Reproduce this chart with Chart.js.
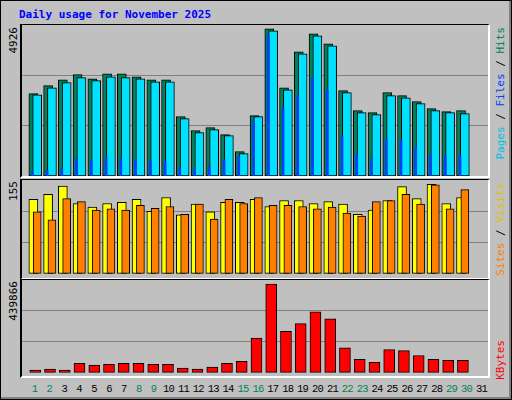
<!DOCTYPE html>
<html>
<head>
<meta charset="utf-8">
<script src="https://cdn.jsdelivr.net/npm/chart.js@4"></script>
<style>
  body { margin:0; background:#fff; }
  #frame { position:absolute; left:0; top:0; width:509px; height:397px; background:#C0C0C0;
           border-right:3px solid #808080; border-bottom:3px solid #808080; box-sizing:content-box; outline:1px solid #000; outline-offset:-1px; }
  .t { position:absolute; font-family:"DejaVu Sans Mono", monospace; font-size:11px; white-space:nowrap; }
  .panel { position:absolute; left:20px; width:470px; box-sizing:border-box;
           border-style:solid; border-width:1px 2px 2px 2px; border-color:#000 #fff #fff #000; }
  .panel canvas { position:absolute; left:0; top:0; }
  .vl { position:absolute; writing-mode:vertical-rl; transform:rotate(180deg); font-family:"DejaVu Sans Mono", monospace; font-size:11px; }
  .vr { position:absolute; writing-mode:vertical-rl; transform:rotate(180deg); font-family:"DejaVu Sans Mono", monospace; font-size:11px; }
  .dia { position:absolute; top:383px; width:16px; text-align:center; font-family:"Liberation Mono", monospace; font-size:10.5px; letter-spacing:-0.8px; }
</style>
</head>
<body>
<div id="frame">
  <div class="t" style="left:19px;top:8px;color:#0000ff;font-weight:bold;">Daily usage for November 2025</div>

  <div class="panel" style="top:24px;height:154px;"><canvas id="c1"></canvas></div>
  <div class="panel" style="top:179px;height:101px;"><canvas id="c2"></canvas></div>
  <div class="panel" style="top:279px;height:99px;"><canvas id="c3"></canvas></div>

  <div class="vl" style="left:7px;top:27px;">4926</div>
  <div class="vl" style="left:7px;top:181px;">155</div>
  <div class="vl" style="left:7px;top:281px;">439866</div>

  <div class="vr" style="left:494px;top:27px;"><span style="color:#00c0e0">Pages</span> / <span style="color:#0040ff">Files</span> / <span style="color:#00805c">Hits</span></div>
  <div class="vr" style="left:494px;top:183px;"><span style="color:#ff8000">Sites</span> / <span style="color:#e0c000">Visits</span></div>
  <div class="vr" style="left:494px;top:340px;color:#ff0000">KBytes</div>

  <div id="days"></div>
</div>

<script>
// ---------------------------------------------------------
// DATOS
// ---------------------------------------------------------
const dias      = [1,2,3,4,5,6,7,8,9,10,11,12,13,14,15,16,17,18,19,20,21,22,23,24,25,26,27,28,29,30];
const finDeSemana = [1,2,8,9,15,16,22,23,29,30];
const hits   = [2685,2946,3141,3305,3174,3337,3337,3239,3141,3141,1935,1478,1576,1348,793,1967,4805,2880,4054,4641,4315,2783,2131,2065,2718,2620,2424,2196,2098,2131];
const files  = [2652,2880,3044,3207,3109,3239,3207,3174,3076,3076,1870,1413,1511,1315,728,1935,4739,2815,3989,4576,4250,2718,2065,2000,2620,2554,2359,2131,2065,2033];
const pages  = [141,174,239,565,500,598,565,533,500,467,272,239,304,533,630,1804,4576,2228,2620,3207,2815,1283,696,565,1217,1152,924,696,663,663];
const sites  = [123,131,145,116,110,116,118,123,103,126,97,115,102,118,118,123,111,121,121,116,119,115,98,105,121,144,124,148,116,126];
const visits = [102,89,124,119,105,107,105,113,108,111,98,115,90,123,116,126,113,113,111,107,110,100,95,119,121,131,115,147,107,139];
const kbytes = [10800,15400,10800,43000,34000,38000,43000,43000,38000,38000,20000,15400,25000,43000,52000,163000,421000,195000,232000,288000,255000,117000,62000,48000,108000,103000,80000,62000,57000,57000];

const MAX_HITS = 4926, MAX_SITES = 155, MAX_KB = 439866;

// ---------------------------------------------------------
// GRAFICOS
// ---------------------------------------------------------
function serie(vals, dx) { return vals.map((v, i) => ({ x: dias[i] + dx, y: v })); }

function barra(label, vals, dx, color, ancho) {
    return { label, data: serie(vals, dx), backgroundColor: color, borderColor: '#000',
             borderWidth: ancho > 3 ? 1 : 0, borderSkipped: false, barThickness: ancho, grouped: false };
}

function panel(id, w, h, datasets, min, max) {
    const cv = document.getElementById(id);
    cv.width = w; cv.height = h;
    cv.style.width = w + 'px'; cv.style.height = h + 'px';
    return new Chart(cv, {
        type: 'bar',
        data: { datasets },
        options: {
            responsive: false, animation: false, events: [],
            layout: { padding: 0 },
            plugins: { legend: { display: false }, tooltip: { enabled: false } },
            scales: {
                x: { type: 'linear', min: 0.1, max: 31.7, display: false, offset: false },
                y: { min, max, border: { display: false },
                     ticks: { display: false },
                     grid: { color: '#808080', drawTicks: false, lineWidth: 1 },
                     afterBuildTicks: s => { s.ticks = [{ value: max / 3 }, { value: 2 * max / 3 }]; } }
            }
        }
    });
}

// el primer dataset queda dibujado encima
panel('c1', 466, 151, [
    barra('Pages', pages, -0.2, '#0040ff', 2),
    barra('Files', files, 0.13, '#00e0ff', 9),
    barra('Hits',  hits, -0.13, '#00805c', 9)
], 0, MAX_HITS);

panel('c2', 466, 98, [
    barra('Visits', visits, 0.13, '#ff8000', 8),
    barra('Sites',  sites, -0.13, '#ffff00', 9)
], -MAX_SITES * 0.05, MAX_SITES);

panel('c3', 466, 96, [
    barra('KBytes', kbytes, 0, '#ff0000', 11)
], -MAX_KB * 0.04, MAX_KB);

// etiquetas de dias
const cont = document.getElementById('days');
for (let d = 1; d <= 31; d++) {
    const el = document.createElement('div');
    el.className = 'dia';
    el.textContent = d;
    el.style.left = (21 + (d - 0.1) * 14.9 - 8) + 'px';
    el.style.color = finDeSemana.includes(d) ? '#00805c' : '#000';
    cont.appendChild(el);
}
</script>
</body>
</html>
